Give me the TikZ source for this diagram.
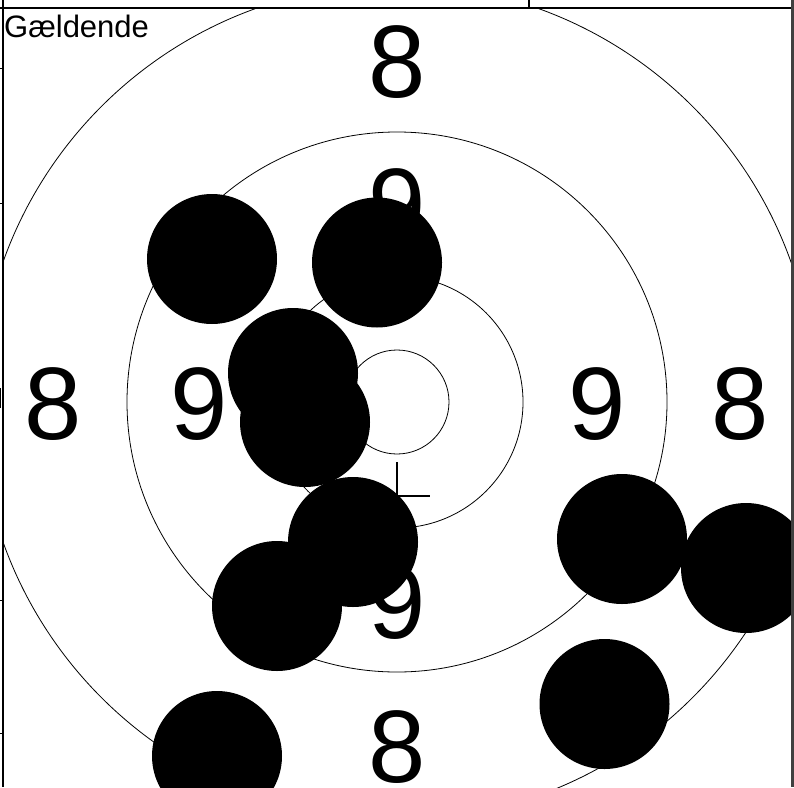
\documentclass[tikz,border=0pt]{standalone}
\usepackage{fontspec}
\setmainfont{Liberation Sans}
\begin{document}
\begin{tikzpicture}[x=1pt,y=-1pt,
  ring/.style={draw=black,line width=0.8pt},
  ringnum/.style={anchor=base,inner sep=0pt,font=\fontsize{103}{103}\selectfont},
  hitmark/.style={circle,fill=black,draw=none,minimum size=130pt,inner sep=0pt},
  framestroke/.style={draw=black,line width=2pt},
  tickmark/.style={draw=black,line width=1pt}]
\useasboundingbox (0,0) rectangle (794,787);
\fill[white] (0,0) rectangle (794,787);
\coordinate (c) at (397,402);
\begin{scope}
  \clip (3,8) rectangle (791,787);
  \draw[ring] (c) circle[radius=52];
  \draw[ring] (c) circle[radius=126];
  \draw[ring] (c) circle[radius=270];
  \draw[ring] (c) circle[radius=418];
  % ring numbers
  \node[ringnum] (n8t) at (397,97) {8};
  \node[ringnum] (n8b) at (397,782) {8};
  \node[ringnum] (n8l) at (53,439.5) {8};
  \node[ringnum] (n8r) at (740,439.5) {8};
  \node[ringnum] (n9t) at (397,240) {9};
  \node[ringnum] (n9b) at (397,638) {9};
  \node[ringnum] (n9l) at (199,439.5) {9};
  \node[ringnum] (n9r) at (597,439.5) {9};
  % centre cross
  \coordinate (xt) at (397,462);
  \coordinate (xb) at (397,530);
  \coordinate (xl) at (363,496);
  \coordinate (xr) at (430,496);
  \draw[line width=2.6pt] (xt) -- (xb);
  \draw[line width=2.6pt] (xl) -- (xr);
  % hits
  \node[hitmark] (h1) at (212,259) {};
  \node[hitmark] (h2) at (377,262.5) {};
  \node[hitmark] (h3) at (293,373) {};
  \node[hitmark] (h4) at (305,422) {};
  \node[hitmark] (h5) at (353,542) {};
  \node[hitmark] (h6) at (277,606) {};
  \node[hitmark] (h7) at (622,539) {};
  \node[hitmark] (h8) at (746,568) {};
  \node[hitmark] (h9) at (604.5,704) {};
  \node[hitmark] (h10) at (217,756) {};
\end{scope}
\node[anchor=base west,inner sep=0pt,font=\fontsize{31}{31}\selectfont] (label) at (4,37) {Gældende};
% frame
\coordinate (fl0) at (3,0);
\coordinate (fl1) at (3,787);
\coordinate (ft0) at (0,8);
\coordinate (ft1) at (794,8);
\coordinate (fr0) at (792.5,0);
\coordinate (fr1) at (792.5,787);
\coordinate (fm0) at (529,0);
\coordinate (fm1) at (529,8);
\draw[framestroke] (fl0) -- (fl1);
\draw[framestroke] (ft0) -- (ft1);
\draw[draw=black!75,line width=3pt] (fr0) -- (fr1);
\draw[framestroke] (fm0) -- (fm1);
% left margin ticks
\foreach \yy in {68,203,600,733} {
  \draw[tickmark] (0,\yy) -- (2,\yy);
}
\draw[line width=1.5pt] (0.7,388) -- (0.7,408);
\end{tikzpicture}
\end{document}
